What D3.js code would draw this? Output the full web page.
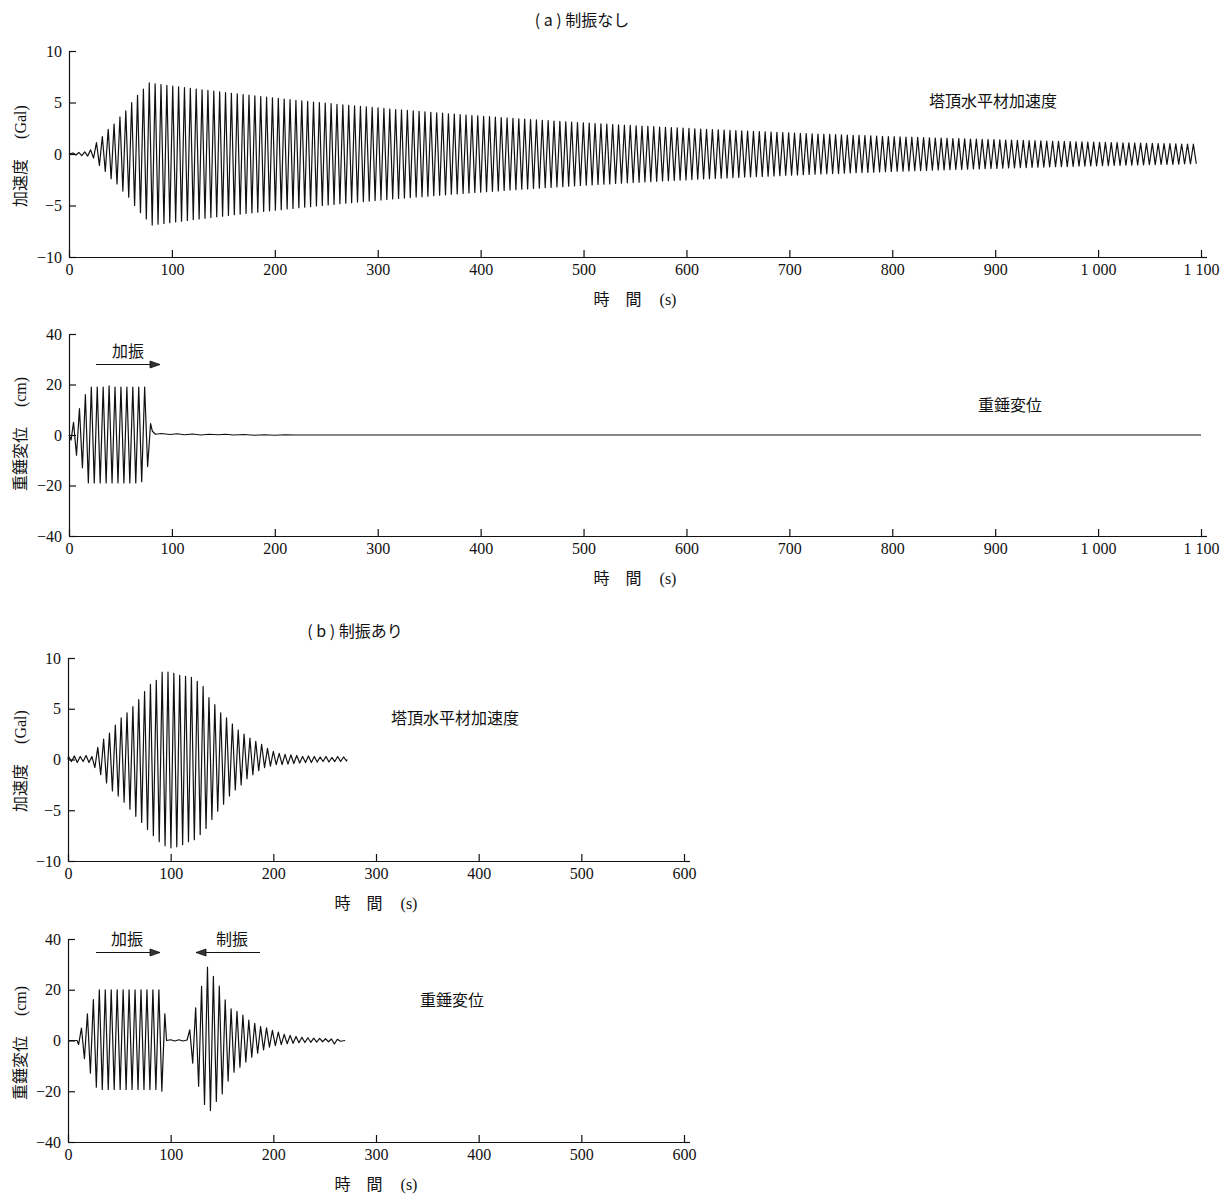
<!doctype html>
<html>
<head>
<meta charset="utf-8">
<title>塔頂水平材加速度と重錘変位</title>
<script src="https://d3js.org/d3.v7.min.js"></script>
<style type="text/css">
    body { margin: 0; background: #fff; }
    .num { font-family: "Liberation Serif", "DejaVu Serif", serif; font-size: 16px; fill: #111; }
    .jp  { font-family: "Noto Sans CJK JP", "Noto Sans", sans-serif; font-size: 15px; fill: #111; }
    .trace { fill: none; stroke: #111; stroke-width: 1.2; stroke-linejoin: round; }
</style>
</head>
<body>
<script>
// ---- (a) 制振なし : 塔頂水平材加速度 (Gal), peak amplitude of each cycle ----
var accA_start = 3.9, accA_period = 5.7;
var accA_amp = [
    0.1, 0.15, 0.2, 0.4, 1.1, 1.7, 2.4, 2.9, 3.6, 4.2, 5.0, 5.7, 6.3,
    6.90, 6.82, 6.75, 6.67, 6.60, 6.53, 6.45, 6.38, 6.31, 6.24,
    6.17, 6.10, 6.04, 5.97, 5.90, 5.84, 5.77, 5.71, 5.65, 5.58,
    5.52, 5.46, 5.40, 5.34, 5.28, 5.22, 5.17, 5.11, 5.05, 5.00,
    4.94, 4.89, 4.83, 4.78, 4.73, 4.67, 4.62, 4.57, 4.52, 4.47,
    4.42, 4.37, 4.32, 4.28, 4.23, 4.18, 4.14, 4.09, 4.05, 4.00,
    3.96, 3.91, 3.87, 3.83, 3.78, 3.74, 3.70, 3.66, 3.62, 3.58,
    3.54, 3.50, 3.46, 3.42, 3.39, 3.35, 3.31, 3.27, 3.24, 3.20,
    3.17, 3.13, 3.10, 3.06, 3.03, 3.00, 2.96, 2.93, 2.90, 2.86,
    2.83, 2.80, 2.77, 2.74, 2.71, 2.68, 2.65, 2.62, 2.59, 2.56,
    2.54, 2.51, 2.48, 2.45, 2.42, 2.40, 2.37, 2.35, 2.32, 2.29,
    2.27, 2.24, 2.22, 2.19, 2.17, 2.15, 2.12, 2.10, 2.07, 2.05,
    2.03, 2.01, 1.98, 1.96, 1.94, 1.92, 1.90, 1.88, 1.86, 1.84,
    1.82, 1.80, 1.78, 1.76, 1.74, 1.72, 1.70, 1.68, 1.66, 1.64,
    1.63, 1.61, 1.59, 1.57, 1.55, 1.54, 1.52, 1.50, 1.49, 1.47,
    1.45, 1.44, 1.42, 1.41, 1.39, 1.38, 1.36, 1.35, 1.33, 1.32,
    1.30, 1.29, 1.27, 1.26, 1.24, 1.23, 1.22, 1.20, 1.19, 1.18,
    1.16, 1.15, 1.14, 1.13, 1.11, 1.10, 1.09, 1.08, 1.07, 1.05,
    1.04, 1.03, 1.02, 1.01, 1.00, 0.98, 0.97, 0.96, 0.95
];

// ---- (a) 重錘変位 (cm) ----
var dispA_lead = [[0, 0], [2, -2]];
var dispA_start = 4.4, dispA_period = 5.76;
var dispA_peaks   = [5, 10.5, 16, 19, 19, 19, 19.5, 19, 19, 19, 19, 19, 19, 4.5];
var dispA_troughs = [-8, -13, -19, -19, -19, -19, -19, -19, -19, -19, -19, -18.5, -12.5];
var dispA_tail = [[81, 1.5], [84, 0.3], [90, 0.6], [98, 0.2], [105, 0.5], [112, 0.1], [120, 0.4],
    [128, 0], [136, 0.3], [145, 0.1], [152, 0.3], [160, 0], [170, 0.2], [180, -0.1],
    [190, 0.1], [200, -0.1], [210, 0.1], [220, 0], [1100, 0]];

// ---- (b) 制振あり : 塔頂水平材加速度 (Gal) ----
var accB_start = 0.5, accB_period = 5.7;
var accB_peaks = [0.3, 0.35, 0.3, 0.4, 0.3,
    1.2, 2.0, 2.6, 3.4, 4.1, 4.6, 5.2, 5.9, 6.7, 7.4, 7.8, 8.6, 8.6, 8.5, 8.3, 8.2, 8.1, 7.7, 7.2,
    6.1, 5.4, 4.6, 4.1, 3.5, 2.9, 2.5, 2.1, 1.8, 1.5, 1.1, 0.8,
    0.6, 0.5, 0.45, 0.4, 0.3, 0.35, 0.3, 0.25, 0.3, 0.2, 0.3, 0.25];
var accB_troughs = [-0.2, -0.3, -0.2, -0.3, -0.8,
    -1.5, -2.3, -3.1, -3.6, -4.2, -4.9, -5.6, -6.2, -6.9, -7.5, -8.1, -8.5, -8.7, -8.6, -8.4, -8.1, -7.9, -7.4, -6.8,
    -5.9, -5.1, -4.4, -3.6, -3.0, -2.5, -1.9, -1.5, -1.1, -0.8, -0.65, -0.5,
    -0.5, -0.45, -0.4, -0.35, -0.3, -0.3, -0.25, -0.2, -0.25, -0.2, -0.2, -0.15];
var accB_end = [[272, 0]];

// ---- (b) 重錘変位 (cm) : 加振 then 制振 ----
var dispB_lead = [[0, 0], [8.8, 0], [10.3, -1.6]];
var dispB1_start = 13.1, dispB1_period = 5.8;
var dispB1_peaks   = [4.9, 10.5, 16.1, 20, 20, 20, 20, 20, 20, 20, 20, 20, 20, 20, 10.5];
var dispB1_troughs = [-7.2, -12.9, -18.4, -19.3, -19.3, -19.3, -19.3, -19.3, -19.3, -19.3, -19.3, -19.3, -19.3, -20];
var dispB_gap = [[96, 0], [100, 0.3], [104, -0.2], [108, 0.3], [112, -0.2], [116, 0.2]];
var dispB2_start = 118.6, dispB2_period = 5.75;
var dispB2_peaks   = [4.2, 12.9, 21.3, 28.9, 25.3, 21.4, 16, 12.5, 11.5, 10, 8, 6.8, 5.5,
    5, 4, 3.3, 2.4, 2, 1.6, 1.3, 1.1, 0.9, 0.8, 0.7, 0.6, 0.5];
var dispB2_troughs = [-8.9, -18, -25.2, -27.6, -24, -21, -16, -12.5, -10.5, -8.5, -6.6, -5, -3.7,
    -2.6, -2, -1.6, -1.3, -1.1, -0.9, -0.8, -0.7, -0.6, -0.5, -0.5, -1.4, -0.3];
var dispB_end = [[270, 0]];

// ---- ticks ----
var ticksTimeA = [0, 100, 200, 300, 400, 500, 600, 700, 800, 900, 1000, 1100];
var ticksTimeB = [0, 100, 200, 300, 400, 500, 600];
var ticksAcc  = [-10, -5, 0, 5, 10];
var ticksDisp = [-40, -20, 0, 20, 40];

// peak / trough pairs, half a period apart
function cycles(start, period, peaks, troughs) {
    var pts = [];
    for (var i = 0; i < peaks.length; i++) {
        pts.push([start + i * period, peaks[i]]);
        if (i < troughs.length) pts.push([start + (i + 0.5) * period, troughs[i]]);
    }
    return pts;
}

var svg = d3.select("body").append("svg")
    .attr("width", 1231).attr("height", 1194)
    .style("background", "#fff");

var fmtTime = function(d) { return d >= 1000 ? String(d).replace(/(\d)(\d{3})$/, "$1 $2") : String(d); };
var fmtVal = d3.format("d");

function panel(o) {
    var x = d3.scaleLinear().domain(o.xDomain).range([o.left, o.right]);
    var y = d3.scaleLinear().domain(o.yDomain).range([o.bottom, o.top]);
    var g = svg.append("g").style("color", "#111");

    var xa = g.append("g")
        .attr("transform", "translate(0," + o.bottom + ")")
        .call(d3.axisBottom(x).tickValues(o.xTicks).tickSize(-7).tickSizeOuter(0)
            .tickPadding(7).tickFormat(fmtTime));
    var ya = g.append("g")
        .attr("transform", "translate(" + o.left + ",0)")
        .call(d3.axisLeft(y).tickValues(o.yTicks).tickSize(-7).tickSizeOuter(0)
            .tickPadding(7).tickFormat(fmtVal));
    [xa, ya].forEach(function(a) {
        a.attr("font-family", null).attr("font-size", null);
        a.selectAll("text").attr("class", "num");
        a.selectAll("path, line").attr("stroke-width", 1.2);
    });
    // x axis runs a little past the last tick
    g.append("line")
        .attr("x1", o.right).attr("x2", o.right + 6)
        .attr("y1", o.bottom + 0.5).attr("y2", o.bottom + 0.5)
        .attr("stroke", "#111").attr("stroke-width", 1.2);

    var line = d3.line()
        .x(function(d) { return x(d[0]); })
        .y(function(d) { return y(d[1]); });
    g.append("path").attr("class", "trace").attr("d", line(o.data));

    // y label (rotated)
    var yl = g.append("text")
        .attr("transform", "translate(" + 20 + "," + o.yLabelY + ") rotate(-90)")
        .attr("text-anchor", "middle").attr("dy", "0.35em");
    yl.append("tspan").attr("class", "jp").style("font-size", "16px").text(o.yName);
    yl.append("tspan").attr("class", "num").attr("dx", 20).text(o.yUnit);

    // x label
    var xl = g.append("text")
        .attr("x", (o.left + o.right) / 2).attr("y", o.bottom + 48)
        .attr("text-anchor", "middle");
    xl.append("tspan").attr("class", "jp").style("font-size", "16px").text("時");
    xl.append("tspan").attr("class", "jp").style("font-size", "16px").attr("dx", 16).text("間");
    xl.append("tspan").attr("class", "num").attr("dx", 18).text("(s)");

    g.append("text").attr("class", "jp").style("font-size", "16px")
        .attr("x", o.noteX).attr("y", o.noteY).text(o.note);
    return { x: x, y: y, g: g };
}

function arrow(g, x1, x2, yy) {
    g.append("line").attr("x1", x1).attr("x2", x2).attr("y1", yy).attr("y2", yy)
        .attr("stroke", "#111").attr("stroke-width", 1);
    var dir = x2 > x1 ? 1 : -1;
    g.append("path")
        .attr("d", "M" + x2 + "," + yy + "L" + (x2 - dir * 10) + "," + (yy - 3.5) +
                   "L" + (x2 - dir * 10) + "," + (yy + 3.5) + "Z")
        .attr("fill", "#333").attr("stroke", "#111").attr("stroke-width", 0.8);
}

// ---- (a) ----
svg.append("text").attr("class", "jp").attr("x", 582).attr("y", 26)
    .attr("text-anchor", "middle").style("font-size", "16px").text("( a ) 制振なし");

var accAData = [[0, 0]].concat(
    cycles(accA_start, accA_period, accA_amp, accA_amp.map(function(a) { return -a; })));
panel({ xDomain: [0, 1100], left: 69, right: 1201, yDomain: [-10, 10], top: 51, bottom: 257,
        xTicks: ticksTimeA, yTicks: ticksAcc, data: accAData,
        yName: "加速度", yUnit: "(Gal)", yLabelY: 156,
        note: "塔頂水平材加速度", noteX: 929, noteY: 107 });

var dispAData = dispA_lead
    .concat(cycles(dispA_start, dispA_period, dispA_peaks, dispA_troughs))
    .concat(dispA_tail);
var pA2 = panel({ xDomain: [0, 1100], left: 69, right: 1201, yDomain: [-40, 40], top: 334, bottom: 536,
        xTicks: ticksTimeA, yTicks: ticksDisp, data: dispAData,
        yName: "重錘変位", yUnit: "(cm)", yLabelY: 434,
        note: "重錘変位", noteX: 978, noteY: 411 });
pA2.g.append("text").attr("class", "jp").style("font-size", "16px").attr("x", 128).attr("y", 357)
    .attr("text-anchor", "middle").text("加振");
arrow(pA2.g, 96, 160, 364.5);

// ---- (b) ----
svg.append("text").attr("class", "jp").attr("x", 355).attr("y", 637)
    .attr("text-anchor", "middle").style("font-size", "16px").text("( b ) 制振あり");

var accBData = [[0, 0]].concat(cycles(accB_start, accB_period, accB_peaks, accB_troughs)).concat(accB_end);
panel({ xDomain: [0, 600], left: 68, right: 684, yDomain: [-10, 10], top: 658, bottom: 861,
        xTicks: ticksTimeB, yTicks: ticksAcc, data: accBData,
        yName: "加速度", yUnit: "(Gal)", yLabelY: 761,
        note: "塔頂水平材加速度", noteX: 391, noteY: 724 });

var dispBData = dispB_lead
    .concat(cycles(dispB1_start, dispB1_period, dispB1_peaks, dispB1_troughs))
    .concat(dispB_gap)
    .concat(cycles(dispB2_start, dispB2_period, dispB2_peaks, dispB2_troughs))
    .concat(dispB_end);
var pB2 = panel({ xDomain: [0, 600], left: 68, right: 684, yDomain: [-40, 40], top: 939, bottom: 1142,
        xTicks: ticksTimeB, yTicks: ticksDisp, data: dispBData,
        yName: "重錘変位", yUnit: "(cm)", yLabelY: 1043,
        note: "重錘変位", noteX: 420, noteY: 1006 });
pB2.g.append("text").attr("class", "jp").style("font-size", "16px").attr("x", 127).attr("y", 945)
    .attr("text-anchor", "middle").text("加振");
arrow(pB2.g, 96, 160, 952.5);
pB2.g.append("text").attr("class", "jp").style("font-size", "16px").attr("x", 232).attr("y", 945)
    .attr("text-anchor", "middle").text("制振");
arrow(pB2.g, 260, 196, 952.5);
</script>
</body>
</html>
